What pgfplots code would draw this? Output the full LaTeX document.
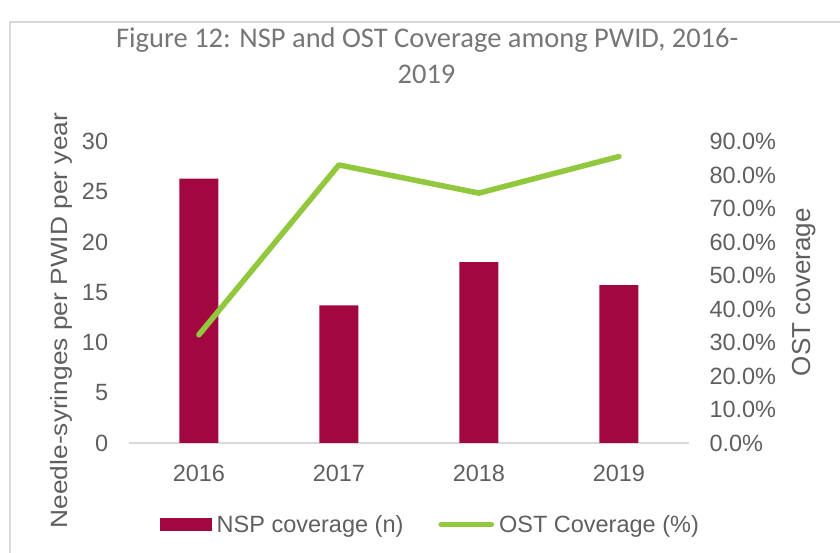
\documentclass[border=0pt]{standalone}
\usepackage{fontspec}
\setmainfont{Liberation Sans}
\newfontfamily\titlefont{Carlito}
\newfontfamily\ylabfont[FakeStretch=1.12]{Liberation Sans}
\usepackage{pgfplots}
\pgfplotsset{compat=1.18}
\definecolor{barred}{HTML}{A3073F}
\definecolor{ostgreen}{HTML}{92C83E}
\definecolor{txtgray}{HTML}{5F5F5F}
\definecolor{titlegray}{HTML}{767676}
\definecolor{axisgray}{HTML}{D9D9D9}
\begin{document}
\begin{tikzpicture}[x=1pt,y=1pt]
\useasboundingbox (0,0) rectangle (840,553);
\draw[axisgray, line width=1.2pt] (10,0) -- (10,531) -- (840,531);
\node[anchor=base, font=\titlefont\fontsize{28.5}{34}\selectfont, text=titlegray] at (427.2,505.7) {Figure 12: NSP and OST Coverage among PWID, 2016-};
\node[anchor=base, font=\titlefont\fontsize{28.5}{34}\selectfont, text=titlegray] at (426.5,469.7) {2019};
\begin{axis}[
  at={(128.9pt,110pt)}, anchor=south west,
  scale only axis, width=560pt, height=301.5pt,
  xmin=-0.5, xmax=3.5, ymin=0, ymax=30,
  xtick={0,1,2,3}, xticklabels={2016,2017,2018,2019},
  ytick={0,5,...,30},
  axis x line*=bottom, axis y line*=left,
  x axis line style={draw=axisgray, line width=1.3pt, -},
  y axis line style={draw=none},
  major tick length=0pt,
  /pgf/number format/assume math mode=true,
  tick label style={font=\fontsize{23.5}{28}\selectfont, text=txtgray},
  xticklabel style={inner sep=0pt, yshift=-22pt},
  yticklabel style={inner sep=0pt, xshift=-20.6pt},
  every axis y label/.style={at={(axis description cs:-0.110,0.406)}, rotate=90, anchor=base, font=\ylabfont\fontsize{23.5}{28}\selectfont, text=txtgray},
  ylabel={Needle-syringes per PWID per year},
  legend columns=2,
  legend cell align=left,
  legend style={at={(rel axis cs:0.0555,-0.2703)}, anchor=west, draw=none, fill=none,
    inner sep=0pt, outer sep=0pt, font=\fontsize{23.5}{28}\selectfont, text=txtgray,
    nodes={inner sep=0pt},
    /tikz/every odd column/.append style={column sep=5pt},
    /tikz/every even column/.append style={column sep=35pt}},
]
\addplot[ybar, bar width=39pt, fill=barred, draw=none,
  legend image code/.code={\fill[barred] (0pt,-6.2pt) rectangle (51.7pt,6.2pt);}]
  coordinates {(0,26.3) (1,13.7) (2,18.0) (3,15.7)};
\addlegendentry{NSP coverage (n)}
\addlegendimage{legend image code/.code={\draw[ostgreen, line width=5.5pt, line cap=round] (2.75pt,0pt) -- (52.85pt,0pt);}}
\addlegendentry{OST Coverage (\%)}
\end{axis}
\begin{axis}[
  at={(128.9pt,110pt)}, anchor=south west,
  scale only axis, width=560pt, height=301.5pt,
  xmin=-0.5, xmax=3.5, ymin=0, ymax=90,
  axis x line=none, axis y line*=right,
  y axis line style={draw=none},
  major tick length=0pt,
  ytick={0,10,...,90},
  /pgf/number format/assume math mode=true,
  yticklabel={\pgfmathprintnumber[fixed,fixed zerofill,precision=1]{\tick}\%},
  tick label style={font=\fontsize{23.5}{28}\selectfont, text=txtgray},
  yticklabel style={inner sep=0pt, xshift=20.4pt, anchor=west},
  every axis y label/.style={at={(axis description cs:1.2163,0.5)}, rotate=90, anchor=base, font=\fontsize{26}{30}\selectfont, text=txtgray},
  ylabel={OST coverage},
]
\addplot[ostgreen, line width=5.5pt, line cap=round, line join=round]
  coordinates {(0,32.3) (1,83.0) (2,74.6) (3,85.5)};
\end{axis}
\end{tikzpicture}
\end{document}
